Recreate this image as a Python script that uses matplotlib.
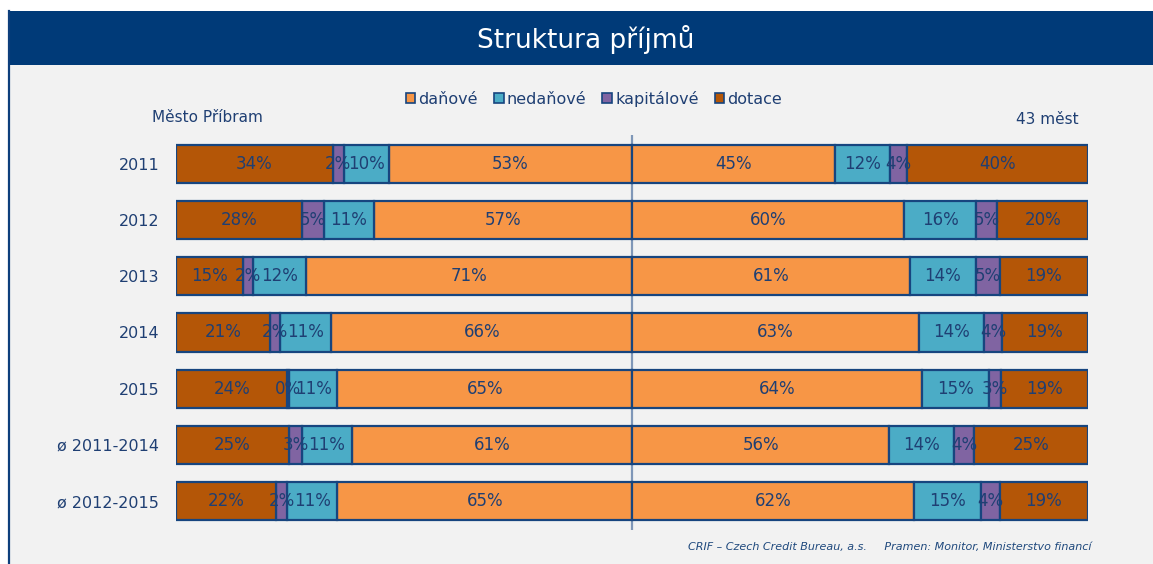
import matplotlib.pyplot as plt
from matplotlib.patches import Patch, Rectangle
from matplotlib.lines import Line2D

# data (shares in %)
periods = ['2011', '2012', '2013', '2014', '2015', 'ø 2011-2014', 'ø 2012-2015']
categories = ['daňové', 'nedaňové', 'kapitálové', 'dotace']

pribram_danove = [53.3, 56.6, 71.4, 65.9, 64.6, 61.4, 64.6]
pribram_nedanove = [9.9, 11.0, 11.8, 11.3, 10.6, 11.0, 11.1]
pribram_kapitalove = [2.4, 4.8, 2.0, 2.2, 0.4, 2.8, 2.3]
pribram_dotace = [34.4, 27.6, 14.8, 20.6, 24.4, 24.8, 22.0]

mesta_danove = [44.6, 59.7, 61.0, 62.9, 63.6, 56.4, 61.8]
mesta_nedanove = [12.0, 15.8, 14.4, 14.3, 14.7, 14.3, 14.8]
mesta_kapitalove = [3.6, 4.6, 5.3, 3.9, 2.7, 4.2, 4.1]
mesta_dotace = [39.8, 19.9, 19.3, 18.9, 19.0, 25.1, 19.3]

colors = ['#F79646', '#4BACC6', '#8064A2', '#B45607']
edge = '#17457f'
txt = '#1f3f73'

W, H = 1153, 564
fig = plt.figure(figsize=(W / 100, H / 100), dpi=100)
fig.patch.set_facecolor('white')

# background panel, title bar, left border
fig.add_artist(Rectangle((8 / W, 0), 1, 1 - 65 / H, transform=fig.transFigure,
                         facecolor='#F2F2F2', edgecolor='none', zorder=0))
fig.add_artist(Rectangle((8 / W, 1 - 65 / H), 1, 54 / H, transform=fig.transFigure,
                         facecolor='#003A78', edgecolor='none', zorder=0))
fig.add_artist(Line2D([9 / W, 9 / W], [0, 1 - 11 / H], transform=fig.transFigure,
                      color='#0d3f7c', lw=1.6))
fig.text(586 / W, 1 - 40 / H, 'Struktura příjmů', color='white', fontsize=19,
         ha='center', va='center')

ax = fig.add_axes([176 / W, 34 / H, 912 / W, 395 / H])
ax.set_facecolor('none')
ypos = list(range(len(periods)))
bh = 0.68


def draw_side(series, sign):
    start = [0.0] * len(periods)
    for vals, col in zip(series, colors):
        lefts = [s if sign > 0 else -(s + v) for s, v in zip(start, vals)]
        ax.barh(ypos, vals, left=lefts, height=bh, color=col, edgecolor=edge,
                linewidth=1.6, zorder=2)
        for y, l, v in zip(ypos, lefts, vals):
            ax.text(l + v / 2, y, f'{v:.0f}%', ha='center', va='center',
                    fontsize=12, color=txt, zorder=3)
        start = [s + v for s, v in zip(start, vals)]


draw_side([pribram_danove, pribram_nedanove, pribram_kapitalove, pribram_dotace], -1)
draw_side([mesta_danove, mesta_nedanove, mesta_kapitalove, mesta_dotace], 1)

ax.axvline(0, color='#7f97b8', lw=1.6, zorder=1)
ax.set_xlim(-100, 100)
ax.set_ylim(6.516, -0.516)
ax.set_yticks(ypos)
ax.set_yticklabels(periods, fontsize=11.5, color=txt)
ax.tick_params(axis='y', length=0, pad=12)
ax.set_xticks([])
for s in ax.spines.values():
    s.set_visible(False)

fig.text(152 / W, 1 - 118 / H, 'Město Příbram', fontsize=11, color=txt,
         ha='left', va='center')
fig.text(1079 / W, 1 - 119 / H, '43 měst', fontsize=11, color=txt,
         ha='right', va='center')

handles = [Patch(facecolor=c, edgecolor=edge, linewidth=1.2, label=l)
           for c, l in zip(colors, categories)]
fig.legend(handles=handles, loc='center', bbox_to_anchor=(594 / W, 1 - 99 / H),
           ncol=4, frameon=False, fontsize=11.5, handlelength=0.6, handleheight=0.6,
           handletextpad=0.2, columnspacing=1.0, labelcolor=txt)

fig.text(1092 / W, 1 - 547 / H,
         'CRIF – Czech Credit Bureau, a.s.     Pramen: Monitor, Ministerstvo financí',
         fontsize=8, style='italic', color='#1f497d', ha='right', va='center')

fig.savefig('out.png', dpi=100)
